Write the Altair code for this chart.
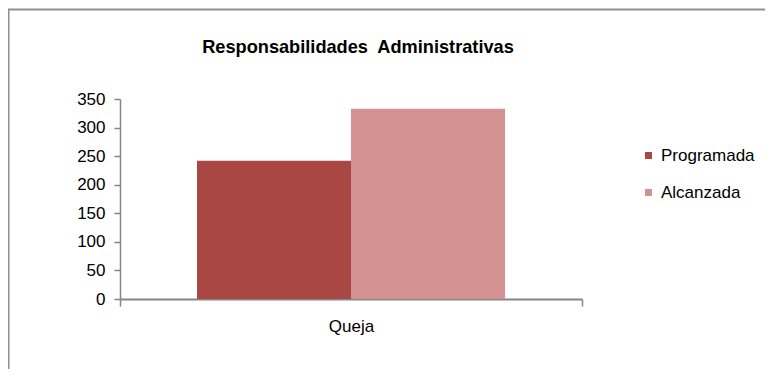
import altair as alt
import pandas as pd

categories = ["Queja", "Queja"]
series = ["Programada", "Alcanzada"]
values = [242, 333]
colors = ["#A94745", "#D39292"]
title_text = "Responsabilidades\u00a0 Administrativas"
y_ticks = [0, 50, 100, 150, 200, 250, 300, 350]

df = pd.DataFrame({"cat": categories, "serie": series, "valor": values})

FONT = "Liberation Sans"
W, H = 462, 200
PAD_L, PAD_T = 112, 91
PAD_R, PAD_B = 757 - PAD_L - W, 361 - PAD_T - H

bars = alt.Chart(df).mark_bar().encode(
    x=alt.X("cat:N", title=None,
            scale=alt.Scale(paddingInner=0, paddingOuter=0),
            axis=alt.Axis(labelAngle=0, tickBand="extent", ticks=True, tickSize=7,
                          tickColor="#868686", tickWidth=1.5,
                          domainColor="#868686", domainWidth=2,
                          labelFont=FONT, labelFontSize=17, labelColor="#000000",
                          labelPadding=12, grid=False)),
    xOffset=alt.XOffset("serie:N", sort=series,
                        scale=alt.Scale(paddingInner=0, paddingOuter=0.5)),
    y=alt.Y("valor:Q", title=None,
            scale=alt.Scale(domain=[0, 350], nice=False),
            axis=alt.Axis(values=y_ticks, grid=False, tickSize=6,
                          tickColor="#868686", tickWidth=1.5,
                          domainColor="#868686", domainWidth=1.5,
                          labelFont=FONT, labelFontSize=17, labelColor="#000000",
                          labelPadding=9)),
    color=alt.Color("serie:N", sort=series,
                    scale=alt.Scale(domain=series, range=colors),
                    legend=alt.Legend(title=None, orient="none", legendX=520, legendY=48,
                                      symbolType="square", symbolSize=49,
                                      symbolStrokeWidth=0, labelOffset=4,
                                      labelFont=FONT, labelFontSize=17,
                                      labelColor="#000000", rowPadding=19,
                                      padding=0)),
)

frame_df = pd.DataFrame({"k": [0]})
title_df = pd.DataFrame({"t": [title_text]})
top_line = alt.Chart(frame_df).mark_rule(color="#909090", strokeWidth=2).encode(
    x=alt.value(-PAD_L), x2=alt.value(W + PAD_R), y=alt.value(-PAD_T + 1.5))
left_line = alt.Chart(frame_df).mark_rule(color="#909090", strokeWidth=1.5).encode(
    x=alt.value(-PAD_L + 0.75), y=alt.value(-PAD_T + 1.5), y2=alt.value(H + PAD_B))
title = alt.Chart(title_df).mark_text(
    font=FONT, fontSize=18.2, fontWeight="bold", color="#000000",
    align="center", baseline="alphabetic").encode(
    text="t:N", x=alt.value(238), y=alt.value(-46))

chart = alt.layer(bars, top_line, left_line, title).properties(
    width=W, height=H,
    autosize=alt.AutoSizeParams(type="none"),
    padding={"left": PAD_L, "top": PAD_T, "right": PAD_R, "bottom": PAD_B},
).configure_view(stroke=None)

chart.save("out.html", embed_options={"renderer": "svg", "actions": False})
